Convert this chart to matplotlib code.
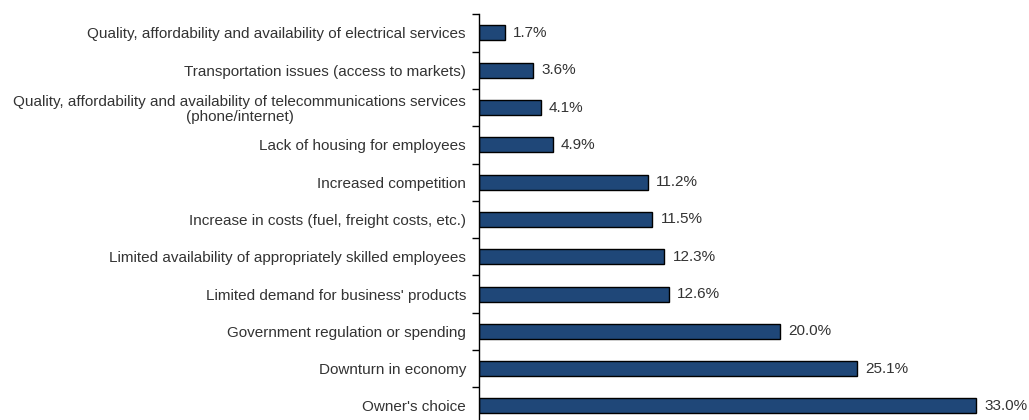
import matplotlib
matplotlib.use("Agg")
import matplotlib.pyplot as plt
import numpy as np

categories = [
    "Quality, affordability and availability of electrical services",
    "Transportation issues (access to markets)",
    "Quality, affordability and availability of telecommunications services\n(phone/internet)",
    "Lack of housing for employees",
    "Increased competition",
    "Increase in costs (fuel, freight costs, etc.)",
    "Limited availability of appropriately skilled employees",
    "Limited demand for business' products",
    "Government regulation or spending",
    "Downturn in economy",
    "Owner's choice",
]
values = [1.7, 3.6, 4.1, 4.9, 11.2, 11.5, 12.3, 12.6, 20.0, 25.1, 33.0]

plt.rcParams['font.family'] = ['Liberation Sans', 'DejaVu Sans']

W, H = 1029, 420
fig = plt.figure(figsize=(W / 100, H / 100), dpi=100)
x0 = 479
ppu = 15.06
xmax = 36
top_px = 14.3
bot_px = 424.6
ax = fig.add_axes([x0 / W, 1 - bot_px / H, xmax * ppu / W, (bot_px - top_px) / H])

y = np.arange(len(categories))
ax.barh(y, values, height=0.4, color='#1f4778', edgecolor='black', linewidth=1.0)
ax.set_ylim(len(categories) - 0.5, -0.5)
ax.set_xlim(0, xmax)

fs = 11.0
txt_color = '#333333'
for yi, v in zip(y, values):
    ax.text(v + 0.55, yi, f"{v:.1f}%", va='center', ha='left', fontsize=fs, color=txt_color)

ax.set_yticks(y)
ax.set_yticklabels(categories, fontsize=fs, color=txt_color, multialignment='center',
                   linespacing=1.1)
ax.tick_params(axis='y', which='major', length=0, pad=9.4)
ax.set_yticks(np.arange(-0.5, len(categories) + 0.5, 1), minor=True)
ax.tick_params(axis='y', which='minor', length=5, width=1, color='black', direction='out')
ax.set_xticks([])
for s in ['top', 'right', 'bottom']:
    ax.spines[s].set_visible(False)
ax.spines['left'].set_color('black')
ax.spines['left'].set_linewidth(1)

fig.savefig("out.png", dpi=100)
